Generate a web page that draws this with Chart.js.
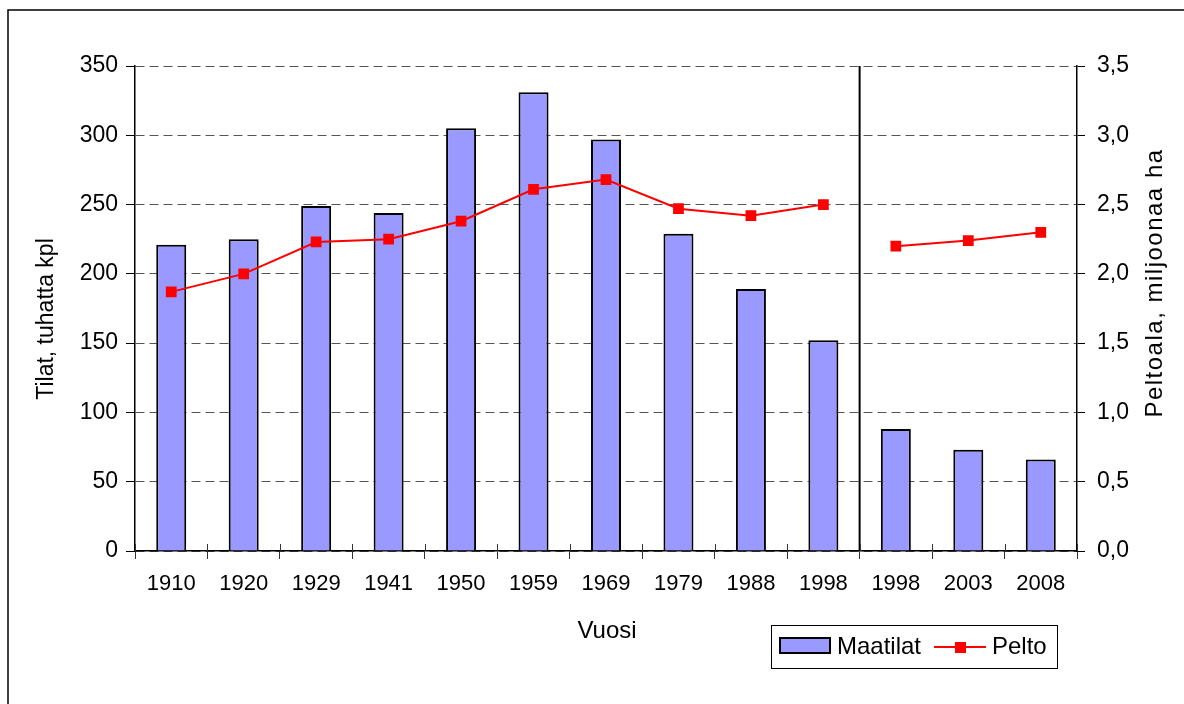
<!DOCTYPE html>
<html>
<head>
<meta charset="utf-8">
<script src="https://cdn.jsdelivr.net/npm/chart.js@4/dist/chart.umd.min.js"></script>
<style>
  html, body { margin: 0; padding: 0; background: #fff; }
  #wrap { position: relative; width: 1184px; height: 704px; }
  canvas { display: block; }
</style>
</head>
<body>
<div id="wrap"><canvas id="c" width="1184" height="704"></canvas></div>
<script>
const categories = ['1910','1920','1929','1941','1950','1959','1969','1979','1988','1998','1998','2003','2008'];
const maatilat = [221, 225, 249, 244, 305, 331, 297, 229, 189, 152, 88, 73, 66];
const pelto = [1.87, 2.0, 2.23, 2.25, 2.38, 2.61, 2.68, 2.47, 2.42, 2.50, 2.20, 2.24, 2.30];
const leftTicks = [0, 50, 100, 150, 200, 250, 300, 350];
const rightTicks = [0, 0.5, 1.0, 1.5, 2.0, 2.5, 3.0, 3.5];
const breakAfter = 9; // series break between the two 1998 groups

const FONT = "'Liberation Sans', Arial, sans-serif";

const decor = {
  id: 'decor',
  beforeDraw(chart) {
    const ctx = chart.ctx;
    ctx.save();
    ctx.fillStyle = '#fff';
    ctx.fillRect(0, 0, chart.width, chart.height);
    ctx.strokeStyle = '#000';
    ctx.lineWidth = 1.5;
    ctx.beginPath();
    ctx.moveTo(8, 704);
    ctx.lineTo(8, 10);
    ctx.lineTo(1184, 10);
    ctx.stroke();
    ctx.restore();
  },
  afterDraw(chart) {
    const ctx = chart.ctx;
    const a = chart.chartArea;
    const xs = chart.scales.x;
    ctx.save();
    // divider between the two series groups
    const xd = (xs.getPixelForValue(breakAfter) + xs.getPixelForValue(breakAfter + 1)) / 2;
    ctx.strokeStyle = '#000';
    ctx.lineWidth = 2;
    ctx.beginPath();
    ctx.moveTo(xd, a.top);
    ctx.lineTo(xd, a.bottom);
    ctx.stroke();
    // upper half of the cross ticks on the category axis
    ctx.lineWidth = 1;
    ctx.strokeStyle = '#333';
    for (let i = 0; i <= categories.length; i++) {
      const x = Math.round(xs.getPixelForValue(i - 0.5)) + 0.5;
      ctx.beginPath();
      ctx.moveTo(x, a.bottom - 7);
      ctx.lineTo(x, a.bottom);
      ctx.stroke();
    }
    // axis titles
    ctx.fillStyle = '#000';
    ctx.textAlign = 'center';
    ctx.textBaseline = 'middle';
    ctx.font = '24px ' + FONT;
    ctx.fillText('Vuosi', 607, 631);
    ctx.save();
    ctx.font = '23px ' + FONT;
    ctx.translate(47, 319);
    ctx.rotate(-Math.PI / 2);
    ctx.fillText('Tilat, tuhatta kpl', 0, 0);
    ctx.restore();
    ctx.save();
    ctx.font = '24px ' + FONT;
    ctx.letterSpacing = '1.5px';
    ctx.translate(1155, 283);
    ctx.rotate(-Math.PI / 2);
    ctx.fillText('Peltoala, miljoonaa ha', 0, 0);
    ctx.restore();
    // legend
    ctx.font = '24px ' + FONT;
    ctx.strokeStyle = '#000';
    ctx.lineWidth = 1;
    ctx.strokeRect(771.5, 625.5, 286, 43);
    ctx.fillStyle = '#9999FF';
    ctx.fillRect(780, 638, 50, 15);
    ctx.lineWidth = 2;
    ctx.strokeRect(780, 638, 50, 15);
    ctx.fillStyle = '#000';
    ctx.textAlign = 'left';
    ctx.fillText('Maatilat', 837, 647);
    ctx.strokeStyle = '#FF0000';
    ctx.lineWidth = 2;
    ctx.beginPath();
    ctx.moveTo(934, 647);
    ctx.lineTo(986, 647);
    ctx.stroke();
    ctx.fillStyle = '#FF0000';
    ctx.fillRect(955, 642, 11, 11);
    ctx.fillStyle = '#000';
    ctx.fillText('Pelto', 992, 647);
    ctx.restore();
  }
};

new Chart(document.getElementById('c'), {
  type: 'bar',
  data: {
    labels: categories,
    datasets: [
      {
        type: 'line',
        label: 'Pelto',
        data: pelto,
        yAxisID: 'y1',
        borderColor: '#FF0000',
        backgroundColor: '#FF0000',
        borderWidth: 2,
        pointStyle: 'rect',
        pointRadius: 7.6,
        pointBorderWidth: 0,
        pointBackgroundColor: '#FF0000',
        tension: 0,
        order: 1,
        segment: {
          borderColor: c => c.p0DataIndex === breakAfter ? 'rgba(0,0,0,0)' : '#FF0000'
        }
      },
      {
        label: 'Maatilat',
        data: maatilat,
        yAxisID: 'y',
        backgroundColor: '#9999FF',
        borderColor: '#000',
        borderWidth: 2,
        barPercentage: 0.414,
        categoryPercentage: 1,
        order: 2
      }
    ]
  },
  options: {
    responsive: false,
    animation: false,
    layout: { padding: { top: 66, left: 0, right: 0, bottom: 0 } },
    plugins: { legend: { display: false }, tooltip: { enabled: false } },
    scales: {
      x: {
        offset: true,
        grid: { drawOnChartArea: false, offset: true, tickLength: 8, color: '#333', lineWidth: 1 },
        border: { color: '#000', width: 1.5 },
        ticks: { color: '#000', font: { family: FONT, size: 22 }, padding: 12, maxRotation: 0, autoSkip: false },
        afterFit: s => { s.height = 153; }
      },
      y: {
        position: 'left',
        min: 0, max: 350,
        afterBuildTicks: s => { s.ticks = leftTicks.map(v => ({ value: v })); },
        grid: { color: '#555', lineWidth: 1, tickLength: 9, tickColor: '#000', tickBorderDash: [] },
        border: { color: '#000', width: 1.5, dash: [9, 5] },
        ticks: { color: '#000', font: { family: FONT, size: 23 }, padding: 8 },
        afterFit: s => { s.width = 135; }
      },
      y1: {
        position: 'right',
        min: 0, max: 3.5,
        afterBuildTicks: s => { s.ticks = rightTicks.map(v => ({ value: v })); },
        grid: { drawOnChartArea: false, tickLength: 8, tickColor: '#000' },
        border: { color: '#000', width: 1.5 },
        ticks: { color: '#000', font: { family: FONT, size: 23 }, padding: 12,
                 callback: v => v.toFixed(1).replace('.', ',') },
        afterFit: s => { s.width = 107; }
      }
    }
  },
  plugins: [decor]
});
</script>
</body>
</html>
